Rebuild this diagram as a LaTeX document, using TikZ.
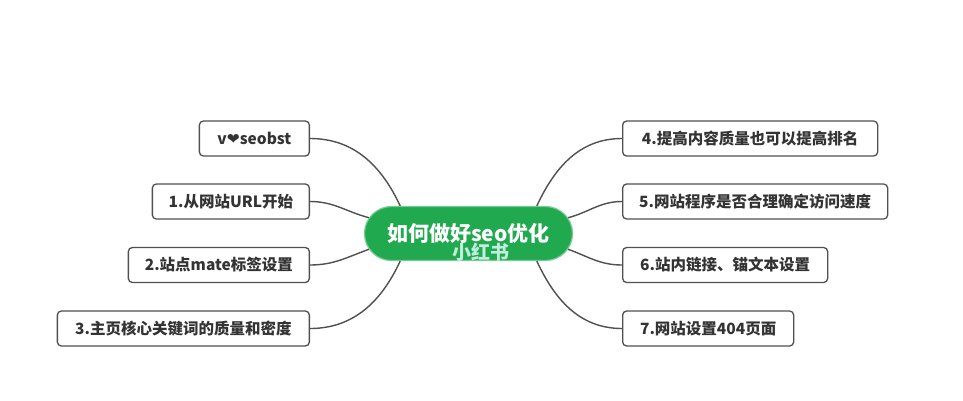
\documentclass[tikz,border=0pt]{standalone}
\usepackage{fontspec}
\setmainfont{Noto Sans CJK SC}
\newfontfamily\symfont{DejaVu Sans}
\usetikzlibrary{shapes.misc}
\definecolor{mmgreen}{HTML}{20A94F}
\definecolor{mmline}{HTML}{505050}
\definecolor{mmtext}{HTML}{333333}
\definecolor{wmark}{HTML}{D4F4EC}
\begin{document}
\begin{tikzpicture}[x=1pt,y=-1pt,
  topic/.style={draw=mmline, line width=1.3pt, rounded corners=4pt, fill=white,
    minimum height=35pt, inner sep=0pt, text=mmtext, font=\bfseries\fontsize{15.5}{18}\selectfont},
  link/.style={draw=mmline, line width=1.4pt},
  central/.style={rounded rectangle, fill=mmgreen, draw=mmgreen!60!white, line width=1.2pt,
    minimum width=208pt, minimum height=54pt, inner sep=0pt, text=white,
    font=\bfseries\fontsize{21}{24}\selectfont}]
\useasboundingbox (0,0) rectangle (963,400);
\fill[white] (0,0) rectangle (963,400);
\node[central] (c) at (468.5,233.5) {\raisebox{1pt}{如何做好seo优化}};
\node[text=wmark, font=\bfseries\fontsize{19}{20}\selectfont, opacity=0.9] (wm) at (481,252) {小红书};
% left
\node[topic, anchor=east, minimum width=110pt] (l0) at (310,138.5) {v{\symfont ❤}seobst};
\node[topic, anchor=east, minimum width=157pt] (l1) at (310,201.5) {1.从网站URL开始};
\node[topic, anchor=east, minimum width=181pt] (l2) at (310,265) {2.站点mate标签设置};
\node[topic, anchor=east, minimum width=252pt] (l3) at (310,328.5) {3.主页核心关键词的质量和密度};
% right
\node[topic, anchor=west, minimum width=255pt] (r0) at (622,138.5) {4.提高内容质量也可以提高排名};
\node[topic, anchor=west, minimum width=265pt] (r1) at (622,201.5) {5.网站程序是否合理确定访问速度};
\node[topic, anchor=west, minimum width=205pt] (r2) at (622,265) {6.站内链接、锚文本设置};
\node[topic, anchor=west, minimum width=171pt] (r3) at (622,328.5) {7.网站设置404页面};
\draw[link] (l0.east) to[out=0,in=115] (c.158);
\draw[link] (l1.east) to[out=0,in=165] (c.171);
\draw[link] (l2.east) to[out=0,in=200] (c.189);
\draw[link] (l3.east) to[out=0,in=245] (c.202);
\draw[link] (r0.west) to[out=180,in=65] (c.22);
\draw[link] (r1.west) to[out=180,in=15] (c.9);
\draw[link] (r2.west) to[out=180,in=-20] (c.-9);
\draw[link] (r3.west) to[out=180,in=-65] (c.-22);
\end{tikzpicture}
\end{document}
